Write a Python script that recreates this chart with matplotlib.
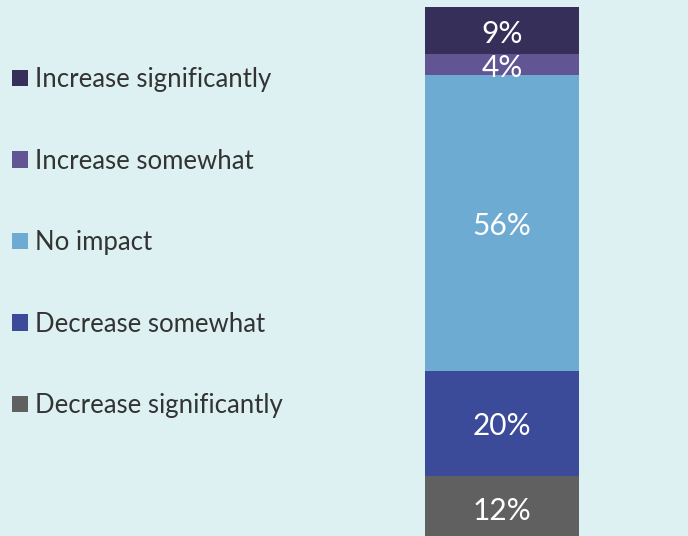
import matplotlib.pyplot as plt
from matplotlib.patches import Patch
from matplotlib.transforms import offset_copy

# stacked from bottom to top
categories = ['Decrease significantly', 'Decrease somewhat', 'No impact',
              'Increase somewhat', 'Increase significantly']
values = [12, 20, 56, 4, 9]
labels = ['12%', '20%', '56%', '4%', '9%']
colors = ['#606060', '#3c4a9a', '#6eabd2', '#615593', '#352f59']

bg = '#ddf1f3'
plt.rcParams['font.family'] = ['Lato', 'DejaVu Sans']

fig = plt.figure(figsize=(6.88, 5.36), dpi=100, facecolor=bg)
ax = fig.add_axes([0, 0, 1, 1 - 7 / 536])
ax.set_facecolor(bg)
# nudge labels a little down, like the original
lab_tr = offset_copy(ax.transData, fig=fig, y=-3, units='dots')

bottom = 0
for v, lab, c in zip(values, labels, colors):
    ax.bar(502, v, width=154, bottom=bottom, color=c, linewidth=0)
    ax.text(502, bottom + v / 2, lab, ha='center', va='center',
            color='white', fontsize=21.5, transform=lab_tr)
    bottom += v

ax.set_xlim(0, 688)
ax.set_ylim(0.6, bottom)  # bar runs a bit past the bottom edge
ax.axis('off')

#legend, top item first
handles = [Patch(facecolor=c, edgecolor='none') for c in colors][::-1]
leg = fig.legend(handles, categories[::-1], loc='upper left',
                 bbox_to_anchor=(12 / 688, 1 - 67 / 536), frameon=False,
                 fontsize=18.5, handlelength=0.62, handleheight=0.62,
                 handletextpad=0.27, labelspacing=2.2, borderpad=0, borderaxespad=0)
for t in leg.get_texts():
    t.set_color('#333333')

fig.savefig('out.png', dpi=100, facecolor=bg)
